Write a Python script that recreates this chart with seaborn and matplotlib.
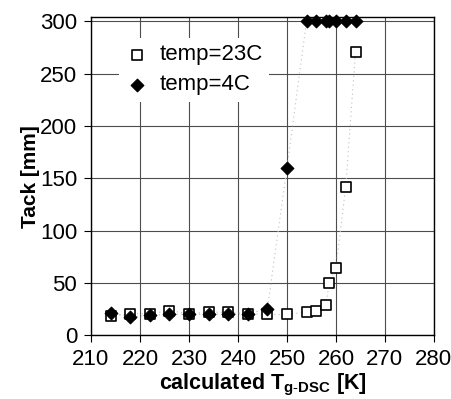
import numpy as np
import pandas as pd
import matplotlib
matplotlib.use("Agg")
import matplotlib.pyplot as plt
import seaborn as sns

# Tack vs calculated Tg, two test temperatures
tg_23c = [214, 218, 222, 226, 230, 234, 238, 242, 246, 250,
          254, 256, 258, 258.6, 260, 262, 264]
tack_23c = [18, 20.5, 20.5, 23.5, 20.5, 22, 22, 20.5, 19.8, 19.8,
            22, 23, 29, 50, 64, 142, 271]

tg_4c = [214, 218, 222, 226, 230, 234, 238, 242, 246, 250,
         254, 256, 258, 258.6, 260, 262, 264]
tack_4c = [21.5, 17.5, 19, 20, 20, 20, 20, 20.5, 25, 160,
           300, 300, 300, 300, 300, 300, 300]

x_ticks = [210, 220, 230, 240, 250, 260, 270, 280]
y_ticks = [0, 50, 100, 150, 200, 250, 300]

df23 = pd.DataFrame({"tg": tg_23c, "tack": tack_23c})
df4 = pd.DataFrame({"tg": tg_4c, "tack": tack_4c})

sns.set_style("white")
plt.rcParams["font.family"] = ["Liberation Sans", "DejaVu Sans"]
plt.rcParams["mathtext.fontset"] = "custom"
plt.rcParams["mathtext.rm"] = "Liberation Sans"
plt.rcParams["mathtext.bf"] = "Liberation Sans:bold"
plt.rcParams["text.color"] = "black"
plt.rcParams["axes.labelcolor"] = "black"

fig = plt.figure(figsize=(4.52, 3.99), dpi=100)
ax = fig.add_axes([0.2013, 0.160, 0.7587, 0.797])

# faint dotted connecting lines
sns.lineplot(data=df23, x="tg", y="tack", sort=False, estimator=None,
             color="0.75", lw=0.8, linestyle=(0, (1, 3)), ax=ax, zorder=2)
sns.lineplot(data=df4, x="tg", y="tack", sort=False, estimator=None,
             color="0.75", lw=0.8, linestyle=(0, (1, 3)), ax=ax, zorder=2)

sns.scatterplot(data=df23, x="tg", y="tack", marker="s", s=52,
                facecolor="white", edgecolor="black", linewidth=1.2,
                label="temp=23C", ax=ax, zorder=4, clip_on=False)
sns.scatterplot(data=df4, x="tg", y="tack", marker="D", s=42,
                color="black", edgecolor="black", linewidth=0.8,
                label="temp=4C", ax=ax, zorder=5, clip_on=False)

ax.set_xlim(210, 280)
ax.set_ylim(0, 304)
ax.set_xticks(x_ticks)
ax.set_yticks(y_ticks)
ax.grid(True, color="0.3", lw=0.8)
ax.set_axisbelow(True)

for s in ax.spines.values():
    s.set_color("black")
    s.set_linewidth(1.0)

ax.tick_params(axis="both", direction="out", length=5, width=0.8,
               labelsize=16, colors="black")
ax.tick_params(axis="x", pad=5)
ax.tick_params(axis="y", pad=5)
ax.tick_params(bottom=True, left=True)

ax.set_xlabel(r"calculated T$_{\mathbf{g\text{-}DSC}}$ [K]", fontsize=15.5,
              fontweight="bold", labelpad=1)
ax.set_ylabel("Tack [mm]", fontsize=15, fontweight="bold", labelpad=0)

leg = ax.legend(loc="upper left", bbox_to_anchor=(0.05, 0.97), fontsize=16,
                frameon=True, facecolor="white", edgecolor="none",
                framealpha=1, handletextpad=0.5, borderpad=0.3,
                labelspacing=0.4, handlelength=1.0)

plt.savefig("out.png", dpi=100)
